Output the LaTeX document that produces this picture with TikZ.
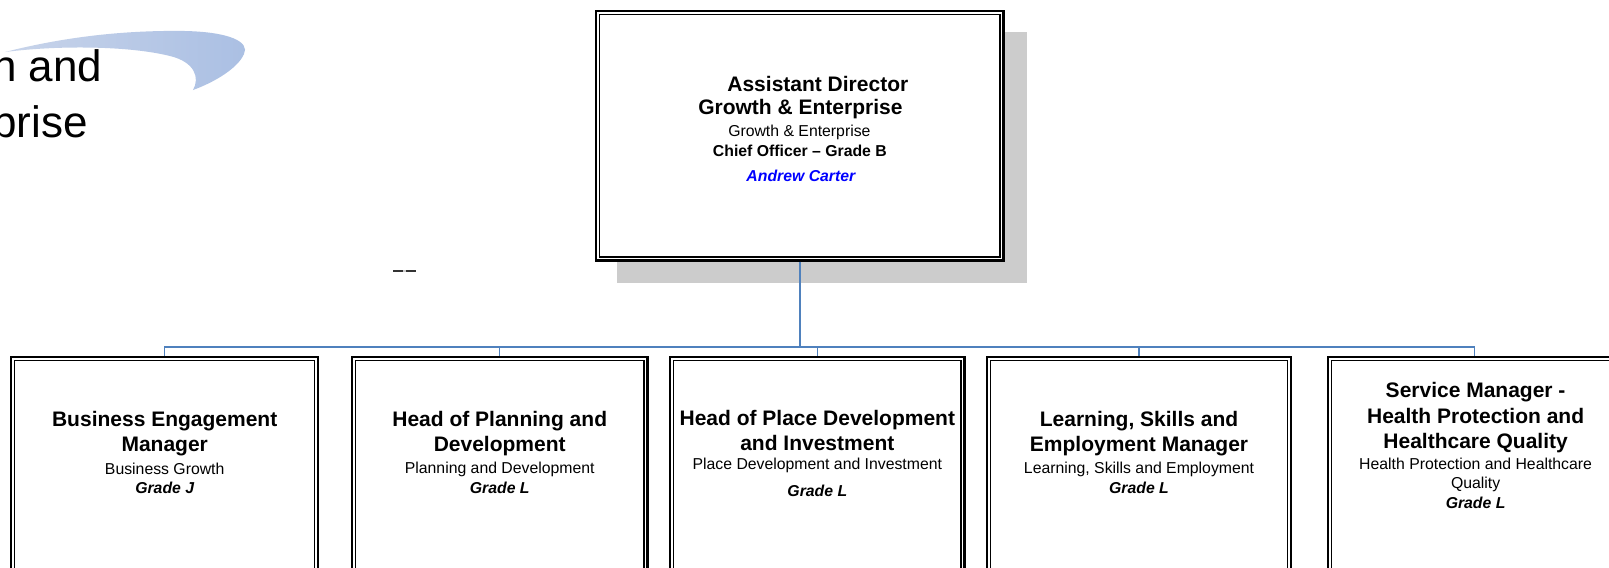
\documentclass[tikz,border=0pt]{standalone}
\usepackage{fontspec}
\setmainfont{Liberation Sans}
\usetikzlibrary{calc}
\newcommand\kscl{1.02614}
\definecolor{connblue}{RGB}{79,129,189}
\definecolor{shadowgray}{RGB}{204,204,204}
\definecolor{nameblue}{RGB}{0,0,255}
\definecolor{swL}{RGB}{200,212,234}
\definecolor{swM}{RGB}{236,239,246}
\definecolor{swR}{RGB}{170,191,227}
\tikzset{
  orgbox/.style={draw=black, line width=2.3pt, fill=white, inner sep=0pt},
  innerline/.style={draw=black, line width=1.4pt},
  connline/.style={draw=connblue, line width=1.5pt},
  ttl/.style={font=\fontsize{21}{25.6}\selectfont\bfseries, align=center, inner sep=0pt},
  subt/.style={font=\fontsize{15.8}{18.5}\selectfont, align=center, inner sep=0pt},
  grd/.style={font=\fontsize{15.8}{18.5}\selectfont\bfseries\itshape, inner sep=0pt},
}
\begin{document}
\begin{tikzpicture}[x=1.02614pt,y=-1.02614pt]
\clip (0,0) rectangle (1568,553.5);
\fill[white] (0,0) rectangle (1568,553.5);

% logo swoosh and text (actual-pixel coordinates)
\begin{scope}[scale=0.9745]
\shade[left color=swL, middle color=swM, right color=swR]
  (5,52) .. controls (60,38) and (120,30) .. (185,31)
  .. controls (230,32) and (250,42) .. (244,54)
  .. controls (238,68) and (215,82) .. (193,90)
  .. controls (200,78) and (195,62) .. (170,56)
  .. controls (130,46) and (60,45) .. (5,52) -- cycle;
\end{scope}
\node[anchor=base east, font=\fontsize{44}{52}\selectfont, inner sep=0pt] (logoa) at (100,79) {h and};
\node[anchor=base east, font=\fontsize{44}{52}\selectfont, inner sep=0pt] (logob) at (85.5,134) {rprise};

% small mark
\draw[line width=1.2pt, black!80] (383,264) -- (393,264);
\draw[line width=1.2pt, black!20] (393,264) -- (396,264);
\draw[line width=1.2pt, black!80] (396,264) -- (405,264);

% shadow and top box
\fill[shadowgray] (601,31) rectangle (1001,276);
\node[orgbox, minimum width=\kscl*397pt, minimum height=\kscl*243pt] (top) at (779.5,132.5) {};

% bottom boxes
\node[orgbox, minimum width=\kscl*299pt, minimum height=\kscl*252pt] (b1) at (160.5,474) {};
\node[orgbox, minimum width=\kscl*288pt, minimum height=\kscl*252pt] (b2) at (487,474) {};
\node[orgbox, minimum width=\kscl*287pt, minimum height=\kscl*252pt] (b3) at (796.5,474) {};
\node[orgbox, minimum width=\kscl*296pt, minimum height=\kscl*252pt] (b4) at (1110,474) {};
\node[orgbox, minimum width=\kscl*330pt, minimum height=\kscl*252pt] (b5) at (1459,474) {};

\foreach \n in {top,b1,b2,b3,b4,b5}
  \draw[innerline] ([xshift=4.6pt,yshift=-4.6pt]\n.north west) rectangle ([xshift=-4.6pt,yshift=4.6pt]\n.south east);

% connectors
\coordinate (bus) at (780,338);
\foreach \t in {b1,b2,b3,b4}
  \draw[connline] (top.south) -- (top.south |- bus) -| (\t.north);
\draw[connline] (top.south) -- (top.south |- bus) -| ([xshift=\kscl*144pt]b5.north west);

% top box text
\node[ttl] (ta) at (797,82) {Assistant Director};
\node[ttl] (tb) at (780,106) {Growth \& Enterprise};
\node[subt] (tc) at (779,129) {Growth \& Enterprise};
\node[subt, font=\fontsize{15.8}{18.5}\selectfont\bfseries] (td) at (779.5,147) {Chief Officer – Grade B};
\node[grd, text=nameblue] (te) at (780.5,171) {Andrew Carter};

% box 1
\node[ttl] (b1t) at (160.5,422.5) {Business Engagement\\Manager};
\node[subt] (b1s) at (160.5,457) {Business Growth};
\node[grd] (b1g) at (160.5,475) {Grade J};
% box 2
\node[ttl] (b2t) at (487,422.5) {Head of Planning and\\Development};
\node[subt] (b2s) at (487,457) {Planning and Development};
\node[grd] (b2g) at (487,475) {Grade L};
% box 3
\node[ttl] (b3t) at (796.5,419.5) {Head of Place Development\\and Investment};
\node[subt] (b3s) at (796.5,454) {Place Development and Investment};
\node[grd] (b3g) at (796.5,478) {Grade L};
% box 4
\node[ttl] (b4t) at (1110,422.5) {Learning, Skills and\\Employment Manager};
\node[subt] (b4s) at (1110,457) {Learning, Skills and Employment};
\node[grd] (b4g) at (1110,475) {Grade L};
% box 5
\node[ttl] (b5t) at (1438,407) {Service Manager -\\Health Protection and\\Healthcare Quality};
\node[subt] (b5s) at (1438,463) {Health Protection and Healthcare\\Quality};
\node[grd] (b5g) at (1438,490) {Grade L};
\end{tikzpicture}
\end{document}
